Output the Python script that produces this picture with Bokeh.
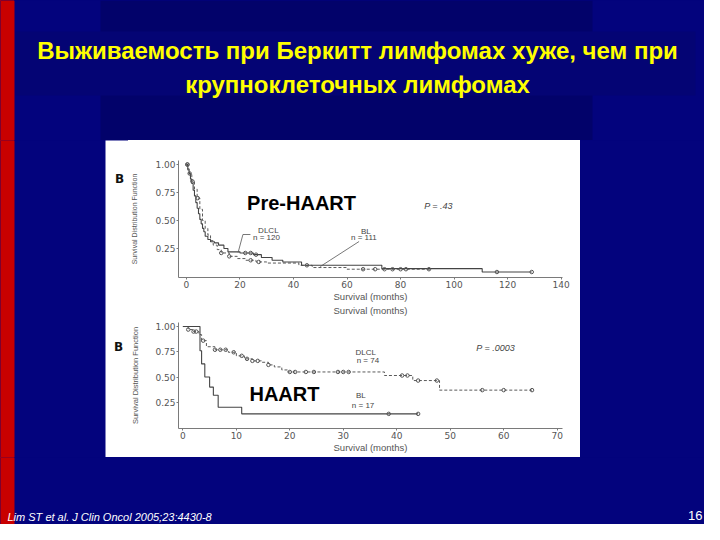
import numpy as np
from bokeh.plotting import figure
from bokeh.layouts import column, row
from bokeh.models import Range1d, FixedTicker, NumeralTickFormatter, LinearAxis
from bokeh.core.properties import value
from bokeh.embed import file_html
from bokeh.resources import INLINE

# ---------------- data ----------------
title_lines = ["Выживаемость при Беркитт лимфомах хуже, чем при",
               "крупноклеточных лимфомах"]
citation = "Lim ST et al. J Clin Oncol 2005;23:4430-8"
slide_number = "16"
panel_letters = ["B", "B"]

# Pre-HAART panel (months, survival)
pre_solid_t = [0, 0.5, 1, 1.5, 2, 2.5, 3, 3.5, 4, 4.5, 5, 5.5, 6, 6.5, 7, 8, 9,
               10.5, 12, 14, 15.5, 20, 25, 28, 32, 36, 43, 73, 110.5, 129]
pre_solid_s = [1.0, 0.96, 0.92, 0.87, 0.83, 0.77, 0.72, 0.66, 0.61, 0.56, 0.51,
               0.47, 0.43, 0.40, 0.36, 0.33, 0.31, 0.30, 0.28, 0.25, 0.22, 0.21,
               0.195, 0.17, 0.145, 0.13, 0.10, 0.07, 0.04, 0.04]
pre_dash_t = [0, 0.5, 1, 2, 3, 4, 5, 6, 7, 8, 9, 10, 11.5, 13, 16, 19, 22, 26,
              30, 42, 47, 60, 91]
pre_dash_s = [1.0, 0.95, 0.91, 0.85, 0.78, 0.70, 0.60, 0.50, 0.43, 0.37, 0.32,
              0.28, 0.24, 0.21, 0.18, 0.16, 0.145, 0.13, 0.12, 0.10, 0.08,
              0.065, 0.065]
pre_solid_censor = [0.3, 1.2, 22, 24, 26, 116, 129]
pre_dash_censor = [0.4, 2.2, 4.2, 13, 16, 24, 27, 45, 66, 70.5, 74, 77, 80, 82, 90.6]

# HAART panel
haart_dlcl_t = [0, 1, 2, 3, 3.5, 4.4, 6, 8.5, 10, 11.5, 13, 14.7, 16, 17.1, 18.5,
                19.6, 37.7, 43, 48, 65.3]
haart_dlcl_s = [1.0, 0.97, 0.95, 0.92, 0.86, 0.80, 0.77, 0.745, 0.71, 0.68, 0.66,
                0.646, 0.62, 0.60, 0.57, 0.55, 0.515, 0.465, 0.37, 0.37]
haart_bl_t = [0, 3.2, 3.5, 4.1, 5.0, 5.7, 6.6, 11.0, 44]
haart_bl_s = [1.0, 0.76, 0.63, 0.50, 0.40, 0.32, 0.20, 0.135, 0.135]
haart_dlcl_censor = [1, 2, 2.5, 3.8, 6, 7, 8, 9.5, 11, 12, 13, 14, 16, 20, 21, 23,
                     24.5, 29, 30, 31, 41, 42, 44, 47.5, 56, 60, 65.3]
haart_bl_censor = [38.5, 44]

pre_x_ticks = [0, 20, 40, 60, 80, 100, 120, 140]
haart_x_ticks = [0, 10, 20, 30, 40, 50, 60, 70]
y_ticks = [0.25, 0.50, 0.75, 1.00]

# ---------------- styles ----------------
BG = "#03037d"
RECT = "#02026a"
BAND = "#040474"
RED = "#c80000"
GRAY = "#5a5a5a"
FONT = value("Liberation Sans")
SLIDE_BG = {"background": "linear-gradient(to right, %s 14px, %s 14px)" % (RED, BG)}


def step_at(t_arr, s_arr, times):
    idx = np.searchsorted(np.asarray(t_arr), np.asarray(times), side="right") - 1
    return np.asarray(s_arr)[idx]


def deco(w, h, x0, x1, y0, y1):
    p = figure(width=w, height=h, x_range=Range1d(x0, x1), y_range=Range1d(y1, y0),
               x_axis_type=None, y_axis_type=None, toolbar_location=None,
               output_backend="svg", min_border=0,
               background_fill_color=BG, border_fill_color=BG,
               outline_line_color=None)
    p.grid.visible = False
    return p


# top title area (slide pixel coordinates 0..704 x 0..140)
top = deco(704, 140, 0, 704, 0, 140)
top.quad(left=[0], right=[14], top=[0], bottom=[145], fill_color=RED, line_color=None)
top.quad(left=[100], right=[592], top=[0], bottom=[145], fill_color=RECT, line_color=None)
top.quad(left=[15], right=[695], top=[31], bottom=[95], fill_color=BAND, line_color=None)
top.text(x=[357, 357], y=[50, 84], text=title_lines, text_font=FONT,
         text_font_style="bold", text_font_size="24px", text_color="#ffff00",
         text_align="center", text_baseline="middle")

# left strip of the middle band (0..128 x 140..457)
left = deco(128, 317, 0, 128, 140, 457)
left.quad(left=[0], right=[14], top=[130], bottom=[470], fill_color=RED, line_color=None)
left.quad(left=[105], right=[130], top=[130], bottom=[470], fill_color="white",
          line_color=None)
left.text(x=[119, 118], y=[178, 346], text=panel_letters, text_font=value("DejaVu Sans"),
          text_font_style="bold", text_font_size="12px", text_color="#111111",
          text_align="center", text_baseline="middle")

right = deco(124, 317, 580, 704, 140, 457)

bottom = deco(704, 67, 0, 704, 457, 524)
bottom.quad(left=[0], right=[14], top=[450], bottom=[540], fill_color=RED, line_color=None)
bottom.text(x=[7], y=[516], text=[citation], text_font=FONT, text_font_style="italic",
            text_font_size="11px", text_color="white", text_align="left",
            text_baseline="middle")
bottom.text(x=[702], y=[515], text=[slide_number], text_font=FONT,
            text_font_size="13px", text_color="white", text_align="right",
            text_baseline="middle")


def km_fig(w, h, xr, yr, bl, br, bt, bb, xticks, ylab_size, ylab_standoff):
    p = figure(width=w, height=h, x_range=Range1d(*xr), y_range=Range1d(*yr),
               toolbar_location=None, output_backend="svg",
               min_border_left=bl, min_border_right=br, min_border_top=bt,
               min_border_bottom=bb, background_fill_color="white",
               border_fill_color="white", outline_line_color=None)
    p.grid.visible = False
    p.xaxis.ticker = FixedTicker(ticks=xticks)
    p.yaxis.ticker = FixedTicker(ticks=y_ticks)
    p.yaxis.formatter = NumeralTickFormatter(format="0.00")
    for ax in (p.xaxis, p.yaxis):
        ax.axis_line_color = "#7a7a7a"
        ax.major_tick_line_color = "#7a7a7a"
        ax.minor_tick_line_color = None
        ax.major_tick_out = 2
        ax.major_tick_in = 0
        ax.major_label_standoff = 1
        ax.major_label_text_font = "DejaVu Sans"
        ax.major_label_text_font_size = "9px"
        ax.major_label_text_color = "#555555"
        ax.axis_label_text_font = "Liberation Sans"
        ax.axis_label_text_font_style = "normal"
        ax.axis_label_text_color = "#555555"
    p.xaxis.axis_label = "Survival (months)"
    p.xaxis.axis_label_text_font_size = "9.5px"
    p.xaxis.axis_label_standoff = 0
    p.yaxis.axis_label = "Survival Distribution Function"
    p.yaxis.axis_label_text_font_size = ylab_size
    p.yaxis.axis_label_standoff = ylab_standoff
    return p


def small_text(p, x, y, t, size="8px", style="normal"):
    p.text(x=[x], y=[y], text=[t], text_font=FONT, text_font_size=size,
           text_font_style=style, text_color="#444444", text_align="center",
           text_baseline="middle")


# ---- Pre-HAART panel ----
k1 = km_fig(452, 180, (-2.97, 140.5), (-0.009, 1.036), 44, 2, 20, 43, pre_x_ticks,
            "7px", 14)
# caption of the lower panel's source figure, printed just under this panel's axis
cap = LinearAxis(ticker=FixedTicker(ticks=[]), axis_label="Survival (months)",
                 axis_line_color=None, major_tick_line_color=None,
                 minor_tick_line_color=None, major_label_text_font_size="1px",
                 major_label_standoff=0, major_tick_out=0, major_tick_in=0,
                 axis_label_standoff=0, axis_label_text_font="Liberation Sans",
                 axis_label_text_font_style="normal", axis_label_text_font_size="9.5px",
                 axis_label_text_color="#555555")
k1.add_layout(cap, "below")
k1.step(pre_dash_t, pre_dash_s, mode="after", line_color=GRAY, line_width=1,
        line_dash="3 2")
k1.step(pre_solid_t, pre_solid_s, mode="after", line_color="#444444", line_width=1.1)
k1.scatter(pre_solid_censor, step_at(pre_solid_t, pre_solid_s, pre_solid_censor),
           marker="circle", size=3.5, fill_color=None, line_color="#555555")
k1.scatter(pre_dash_censor, step_at(pre_dash_t, pre_dash_s, pre_dash_censor),
           marker="circle", size=3.5, fill_color=None, line_color="#555555")
k1.text(x=[43.0], y=[0.652], text=["Pre-HAART"], text_font=FONT, text_font_style="bold",
        text_font_size="20px", text_color="black", text_align="center",
        text_baseline="middle")
small_text(k1, 94.2, 0.634, "P = .43", "9px", "italic")
small_text(k1, 30.6, 0.41, "DLCL")
small_text(k1, 29.9, 0.345, "n = 120")
small_text(k1, 67.0, 0.40, "BL")
small_text(k1, 66.3, 0.35, "n = 111")
k1.line([23.9, 21.1, 19.3], [0.375, 0.375, 0.214], line_color="#555555", line_width=0.8)
k1.line([64.5, 50.0], [0.3125, 0.089], line_color="#555555", line_width=0.8)

# ---- HAART panel ----
k2 = km_fig(452, 137, (-0.82, 71.0), (-0.01, 1.04), 49, 18, 2, 29, haart_x_ticks,
            "7.5px", 12)
k2.step(haart_dlcl_t, haart_dlcl_s, mode="after", line_color=GRAY, line_width=1,
        line_dash="3 2")
k2.step(haart_bl_t, haart_bl_s, mode="after", line_color="#444444", line_width=1.1)
k2.scatter(haart_dlcl_censor, step_at(haart_dlcl_t, haart_dlcl_s, haart_dlcl_censor),
           marker="circle", size=3.5, fill_color=None, line_color="#555555")
k2.scatter(haart_bl_censor, step_at(haart_bl_t, haart_bl_s, haart_bl_censor),
           marker="circle", size=3.5, fill_color=None, line_color="#555555")
k2.text(x=[19.0], y=[0.327], text=["HAART"], text_font=FONT, text_font_style="bold",
        text_font_size="20px", text_color="black", text_align="center",
        text_baseline="middle")
small_text(k2, 58.5, 0.79, "P = .0003", "9px", "italic")
small_text(k2, 34.2, 0.74, "DLCL")
small_text(k2, 34.6, 0.66, "n = 74")
small_text(k2, 33.3, 0.317, "BL")
small_text(k2, 33.7, 0.218, "n = 17")

panels = column(k1, k2, styles={"background-color": "white"})
middle = row(left, panels, right, styles=SLIDE_BG)
layout = column(top, middle, bottom, styles=SLIDE_BG)

open("out.html", "w").write(file_html(layout, INLINE))
